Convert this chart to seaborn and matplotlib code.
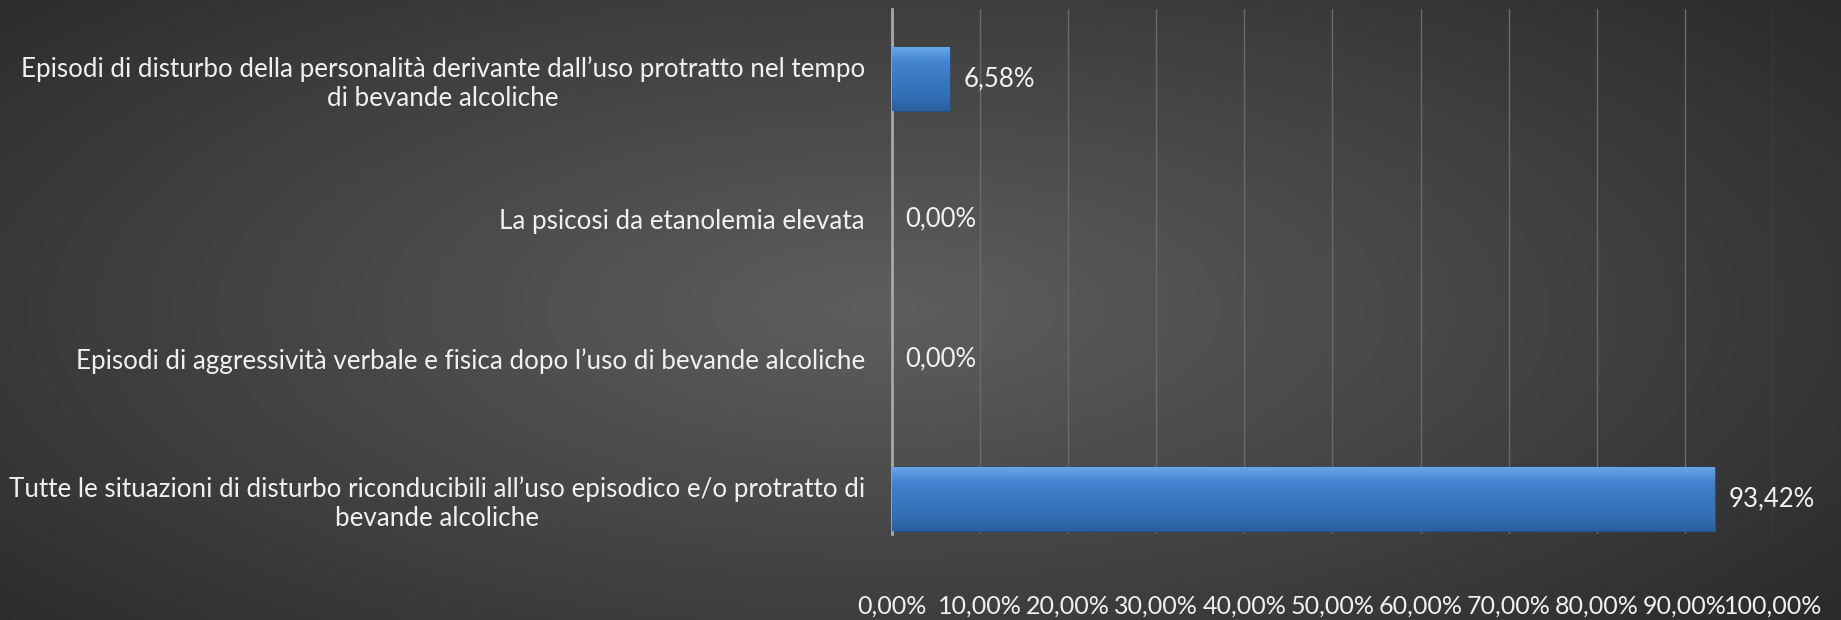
import matplotlib
matplotlib.use("Agg")
import matplotlib.pyplot as plt
import numpy as np
import pandas as pd
import seaborn as sns

categories = [
    "Episodi di disturbo della personalità derivante dall\u2019uso protratto nel tempo\ndi bevande alcoliche",
    "La psicosi da etanolemia elevata",
    "Episodi di aggressività verbale e fisica dopo l\u2019uso di bevande alcoliche",
    "Tutte le situazioni di disturbo riconducibili all\u2019uso episodico e/o protratto di\nbevande alcoliche",
]
values = [6.58, 0.00, 0.00, 93.42]
x_ticks = [0, 10, 20, 30, 40, 50, 60, 70, 80, 90, 100]

df = pd.DataFrame({"categoria": categories, "valore": values})

sns.set_theme(style="dark")
plt.rcParams["font.family"] = ["Lato", "DejaVu Sans"]

fig = plt.figure(figsize=(18.41, 6.2), dpi=100)

# radial background gradient
bg = fig.add_axes([0, 0, 1, 1], zorder=-10)
yy, xx = np.mgrid[0:1:300j, 0:1:900j]
r = np.sqrt(((xx - 0.48) / 0.75) ** 2 + ((yy - 0.5) / 0.9) ** 2)
shade = np.clip(0.37 - 0.23 * r, 0.14, 0.37)
bg.imshow(np.dstack([shade] * 3), aspect="auto", extent=[0, 1, 0, 1])
bg.set_axis_off()

ax = fig.add_axes([0.4845, 0.139, 0.4785, 0.846])
ax.patch.set_alpha(0)

sns.barplot(data=df, x="valore", y="categoria", orient="h", ax=ax,
            color="#3c7bc8", width=0.46, saturation=1,
            edgecolor="#244f86", linewidth=1.0)

# bevel-like vertical gradient inside each bar
cmap = matplotlib.colors.LinearSegmentedColormap.from_list(
    "bev", ["#6aa6ea", "#4384d0", "#3a78c2", "#3470b8", "#2b5f9e"])
grad = np.linspace(0, 1, 100).reshape(-1, 1)
for p in ax.patches:
    if p.get_width() <= 0:
        continue
    x0, y0, w, h = p.get_x(), p.get_y(), p.get_width(), p.get_height()
    im = ax.imshow(grad, cmap=cmap, aspect="auto",
                   extent=[x0, x0 + w, y0 + h, y0], zorder=3,
                   interpolation="bilinear")
    im.set_clip_path(p)

for i, v in enumerate(values):
    ax.text(v + 1.5, i, f"{v:.2f}%".replace(".", ","), va="center", ha="left",
            color="#f2f2f2", fontsize=18.5)

ax.set_xlim(0, 100)
ax.set_ylim(3.25, -0.5)
ax.set_xticks(x_ticks)
ax.set_xticklabels([f"{t:.2f}%".replace(".", ",") for t in x_ticks])
ax.tick_params(axis="x", colors="#f0f0f0", labelsize=18, pad=44, length=0)
ax.tick_params(axis="y", colors="#f0f0f0", labelsize=18.7, pad=19.5, length=0)
for lbl in ax.get_yticklabels():
    lbl.set_multialignment("center")
    lbl.set_linespacing(1.2)

ax.grid(axis="x", color="#6a6a6a", linewidth=1.0)
ax.grid(axis="y", visible=False)
ax.set_axisbelow(True)
for side in ["top", "right", "bottom"]:
    ax.spines[side].set_visible(False)
ax.spines["left"].set_color("#a8a8a8")
ax.spines["left"].set_linewidth(2)
ax.set_xlabel("")
ax.set_ylabel("")

fig.savefig("out.png", dpi=100)
